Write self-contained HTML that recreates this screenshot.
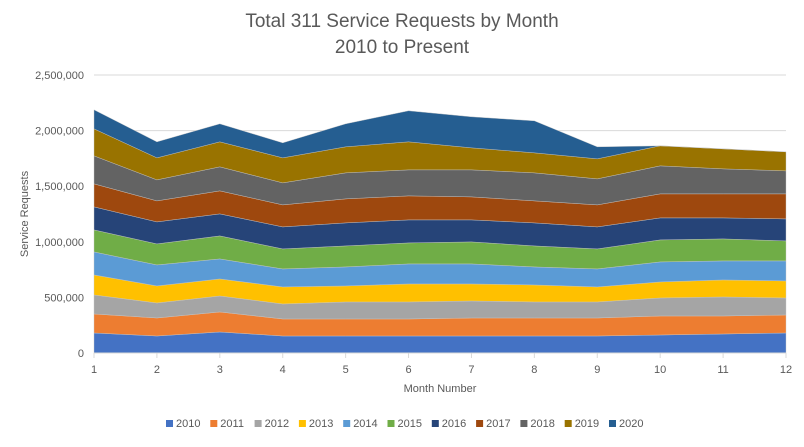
<!DOCTYPE html>
<html><head><meta charset="utf-8"><style>
body{margin:0;background:#fff;font-family:"Liberation Sans",sans-serif}
svg text{font-family:"Liberation Sans",sans-serif;fill:#595959}
</style></head><body>
<svg id="chart" width="804" height="442" viewBox="0 0 804 442">
<text x="402" y="27" text-anchor="middle" font-size="19">Total 311 Service Requests by Month</text>
<text x="402" y="53" text-anchor="middle" font-size="19">2010 to Present</text>
<g id="grid"></g><g id="areas"></g><g id="axes"></g><g id="legend"></g>
<text x="0" y="0" transform="translate(28,214) rotate(-90)" text-anchor="middle" font-size="11">Service Requests</text>
<text x="440" y="392" text-anchor="middle" font-size="11">Month Number</text>
</svg>
<script>
const months=[1,2,3,4,5,6,7,8,9,10,11,12];
const seriesNames=["2010","2011","2012","2013","2014","2015","2016","2017","2018","2019","2020"];
const colors=["#4472c4","#ed7d31","#a5a5a5","#ffc000","#5b9bd5","#70ad47","#264478","#9e480e","#636363","#997300","#255e91"];
// values in thousands
const s2010=[180,153,189,153,153,153,153,153,153,162,171,180];
const s2011=[171,162,180,153,153,153,162,162,162,171,162,162];
const s2012=[171,135,144,135,153,153,153,144,144,162,171,153];
const s2013=[180,153,153,153,144,162,153,153,135,144,153,153];
const s2014=[207,189,180,162,171,180,180,162,162,180,171,180];
const s2015=[198,189,207,180,189,189,198,189,180,198,198,180];
const s2016=[207,198,198,198,207,207,198,207,198,198,189,198];
const s2017=[207,189,207,198,216,216,207,198,198,216,216,225];
const s2018=[252,189,216,198,234,234,243,252,234,252,225,207];
const s2019=[243,198,225,225,234,252,198,180,180,180,180,171];
const s2020=[171,144,162,135,207,279,279,288,108,0,0,0];
const series=[s2010,s2011,s2012,s2013,s2014,s2015,s2016,s2017,s2018,s2019,s2020];
const yTicks=[0,500,1000,1500,2000,2500];
const yTickLabels=["0","500,000","1,000,000","1,500,000","2,000,000","2,500,000"];
const NS="http://www.w3.org/2000/svg";
const X0=94,X1=786,Y0=353,Y1=75,YMAX=2500;
const xs=m=>X0+(m-1)*(X1-X0)/(months.length-1);
const ys=v=>Y0-v/YMAX*(Y0-Y1);
function mk(tag,attrs,parent){const e=document.createElementNS(NS,tag);for(const k in attrs)e.setAttribute(k,attrs[k]);parent.appendChild(e);return e;}
const grid=document.getElementById('grid'),areas=document.getElementById('areas'),axes=document.getElementById('axes'),legend=document.getElementById('legend');
yTicks.forEach((t,i)=>{
 if(i>0){const l=mk('line',{x1:X0,x2:X1,y1:ys(t),y2:ys(t),stroke:'#d9d9d9','stroke-width':1},grid);
 
 }
 const tx=mk('text',{x:84,y:ys(t)+4,'text-anchor':'end','font-size':11},axes);tx.textContent=yTickLabels[i];
 
 
});
let cum=months.map(()=>0);
series.forEach((s,si)=>{
 const top=cum.map((c,i)=>c+s[i]);
 let d='';months.forEach((m,i)=>{d+=(i?'L':'M')+xs(m)+','+ys(top[i]);});
 for(let i=months.length-1;i>=0;i--)d+='L'+xs(months[i])+','+ys(cum[i]);
 const p=mk('path',{d:d+'Z',fill:colors[si],stroke:'#c9c9c9','stroke-width':0.4},areas);
 
 
 cum=top;
});
const ax=mk('line',{x1:X0,x2:X1,y1:Y0,y2:Y0,stroke:'#d9d9d9'},axes);


months.forEach(m=>{
 mk('line',{x1:xs(m),x2:xs(m),y1:Y0,y2:Y0+5,stroke:'#d9d9d9'},axes);
 const t=mk('text',{x:xs(m),y:373,'text-anchor':'middle','font-size':11},axes);t.textContent=m;
 
 
});
seriesNames.forEach((n,i)=>{
 const g=mk('g',{},legend);
 
 
 const x=166+i*44.3;
 mk('rect',{x:x,y:420,width:7,height:7,fill:colors[i]},g);
 const t=mk('text',{x:x+10,y:427,'font-size':11},g);t.textContent=n;
});
</script>
</body></html>
